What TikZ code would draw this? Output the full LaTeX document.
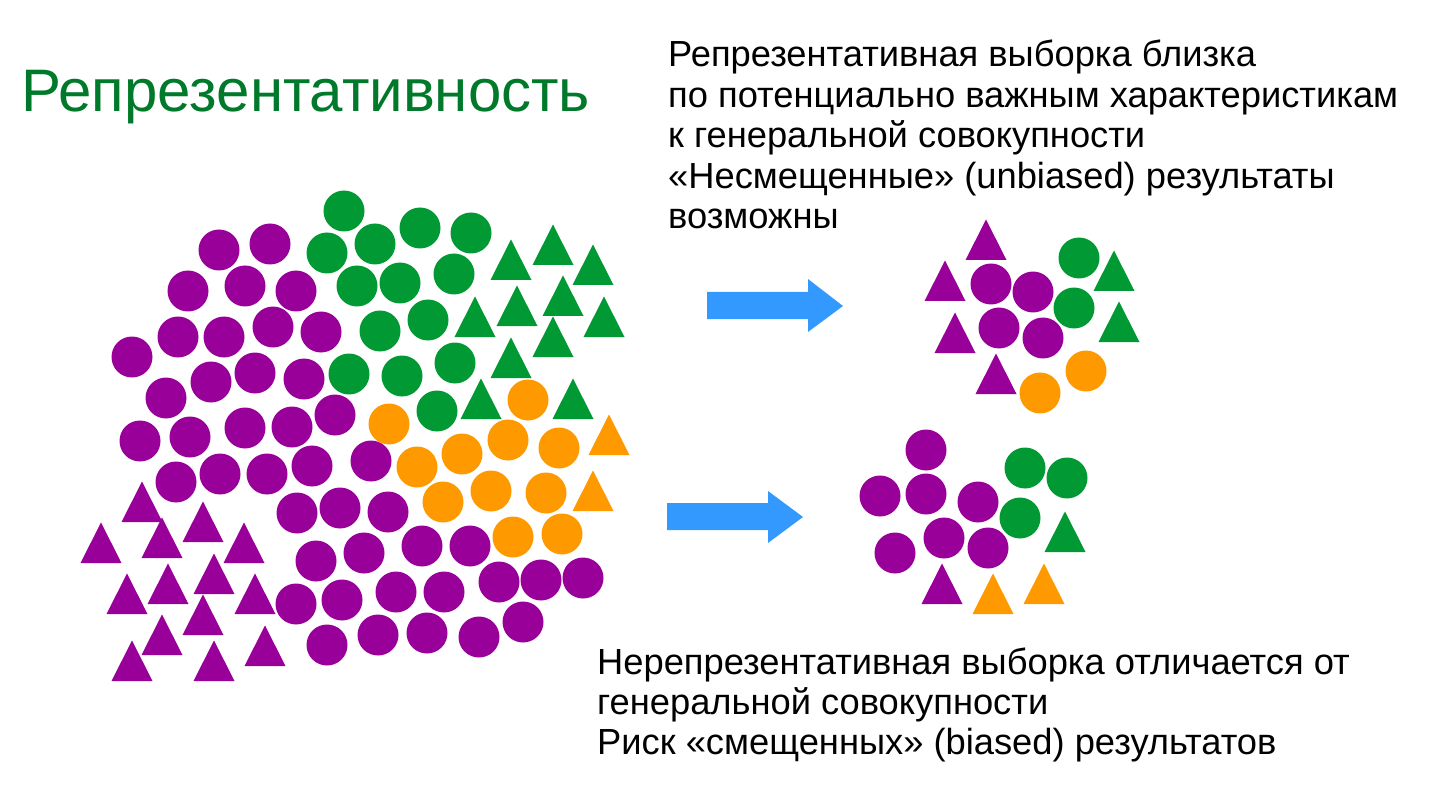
\documentclass[tikz,border=0pt]{standalone}
\usepackage{fontspec}
\setmainfont{Liberation Sans}
\definecolor{purp}{RGB}{153,0,153}
\definecolor{grn}{RGB}{0,153,51}
\definecolor{orng}{RGB}{255,153,0}
\definecolor{arrblue}{RGB}{51,153,255}
\definecolor{titlegreen}{RGB}{0,122,42}
\newcommand\Cir[3]{\fill[#1] (#2,#3) circle[radius=20.5pt];}
\newcommand\Tri[3]{\fill[#1] (#2,#3) ++(-20.5,0) -- ++(41,0) -- ++(-20.5,-40.5) -- cycle;}
\tikzset{
  bodytext/.style={anchor=base west, inner sep=0pt, font=\fontsize{36.3}{42}\selectfont, text=black},
  titletext/.style={anchor=base west, inner sep=0pt, font=\fontsize{60}{70}\selectfont, text=titlegreen},
  bluearrow/.style={fill=arrblue}
}
\begin{document}
\begin{tikzpicture}[x=1pt,y=-1pt]
\useasboundingbox (0,0) rectangle (1436,805);
% title
\node[titletext] (title) at (21,112) {Репрезентативность};
% top text
\node[bodytext] (t1) at (668,67) {Репрезентативная выборка близка};
\node[bodytext] (t2) at (668,108) {по потенциально важным характеристикам};
\node[bodytext] (t3) at (668,148) {к генеральной совокупности};
\node[bodytext] (t4) at (668,189) {«Несмещенные» (unbiased) результаты};
\node[bodytext] (t5) at (668,229) {возможны};
% bottom text
\node[bodytext] (b1) at (597,674) {Нерепрезентативная выборка отличается от};
\node[bodytext] (b2) at (597,714) {генеральной совокупности};
\node[bodytext] (b3) at (597,754) {Риск «смещенных» (biased) результатов};
% arrows
\fill[bluearrow] (707,292) -- (808,292) -- (808,279) -- (843,306) -- (808,332) -- (808,319) -- (707,319) -- cycle;
\fill[bluearrow] (667,503) -- (768,503) -- (768,491) -- (803,517) -- (768,543) -- (768,530) -- (667,530) -- cycle;
% big cluster: purple circles
\foreach \x/\y in {219/250,270/244,188/291,245/286,296/291,178/337,224/337,273/327,321/332,132/357,166/398,211/382,255/373,304/379,335/415,140/441,190/437,245/428,292/427,176/482,220/474,267/474,312/466,371/461,297/513,340/508,388/512,316/561,364/553,422/546,470/546,296/604,342/600,396/592,444/592,499/582,541/580,583/578,327/645,378/635,427/633,479/637,523/622}
  {\Cir{purp}{\x}{\y}}
% green circles
\foreach \x/\y in {344/211,327/253,375/244,420/228,471/233,357/286,400/283,454/274,380/331,428/320,349/374,402/376,455/363,437/411}
  {\Cir{grn}{\x}{\y}}
% orange circles
\foreach \x/\y in {528/400,389/424,508/440,462/454,559/448,417/467,443/502,491/491,546/493,513/537,562/534}
  {\Cir{orng}{\x}{\y}}
% green triangles
\foreach \x/\y in {511/280,553/265,593/285,475/337,517/326,563/316,604/337,553/357,511/378,481/419,573/419}
  {\Tri{grn}{\x}{\y}}
% orange triangles
\foreach \x/\y in {609/455,593/511}
  {\Tri{orng}{\x}{\y}}
% purple triangles
\foreach \x/\y in {142/522,162/558,203/542,101/563,244/563,127/614,168/604,214/594,255/614,203/635,162/655,265/666,132/681,214/681}
  {\Tri{purp}{\x}{\y}}
% top sample
\foreach \x/\y in {986/260,945/301,955/353,996/394}
  {\Tri{purp}{\x}{\y}}
\foreach \x/\y in {991/284,1033/292,999/328,1043/338}
  {\Cir{purp}{\x}{\y}}
\foreach \x/\y in {1079/258,1074/308}
  {\Cir{grn}{\x}{\y}}
\foreach \x/\y in {1114/291,1119/342}
  {\Tri{grn}{\x}{\y}}
\foreach \x/\y in {1040/393,1086/371}
  {\Cir{orng}{\x}{\y}}
% bottom sample
\foreach \x/\y in {926/450,880/496,926/494,978/502,895/553,944/538,988/548}
  {\Cir{purp}{\x}{\y}}
\foreach \x/\y in {1025/468,1067/478,1020/518}
  {\Cir{grn}{\x}{\y}}
\Tri{grn}{1065}{552}
\Tri{purp}{942}{604}
\foreach \x/\y in {993/614,1044/604}
  {\Tri{orng}{\x}{\y}}
\end{tikzpicture}
\end{document}
